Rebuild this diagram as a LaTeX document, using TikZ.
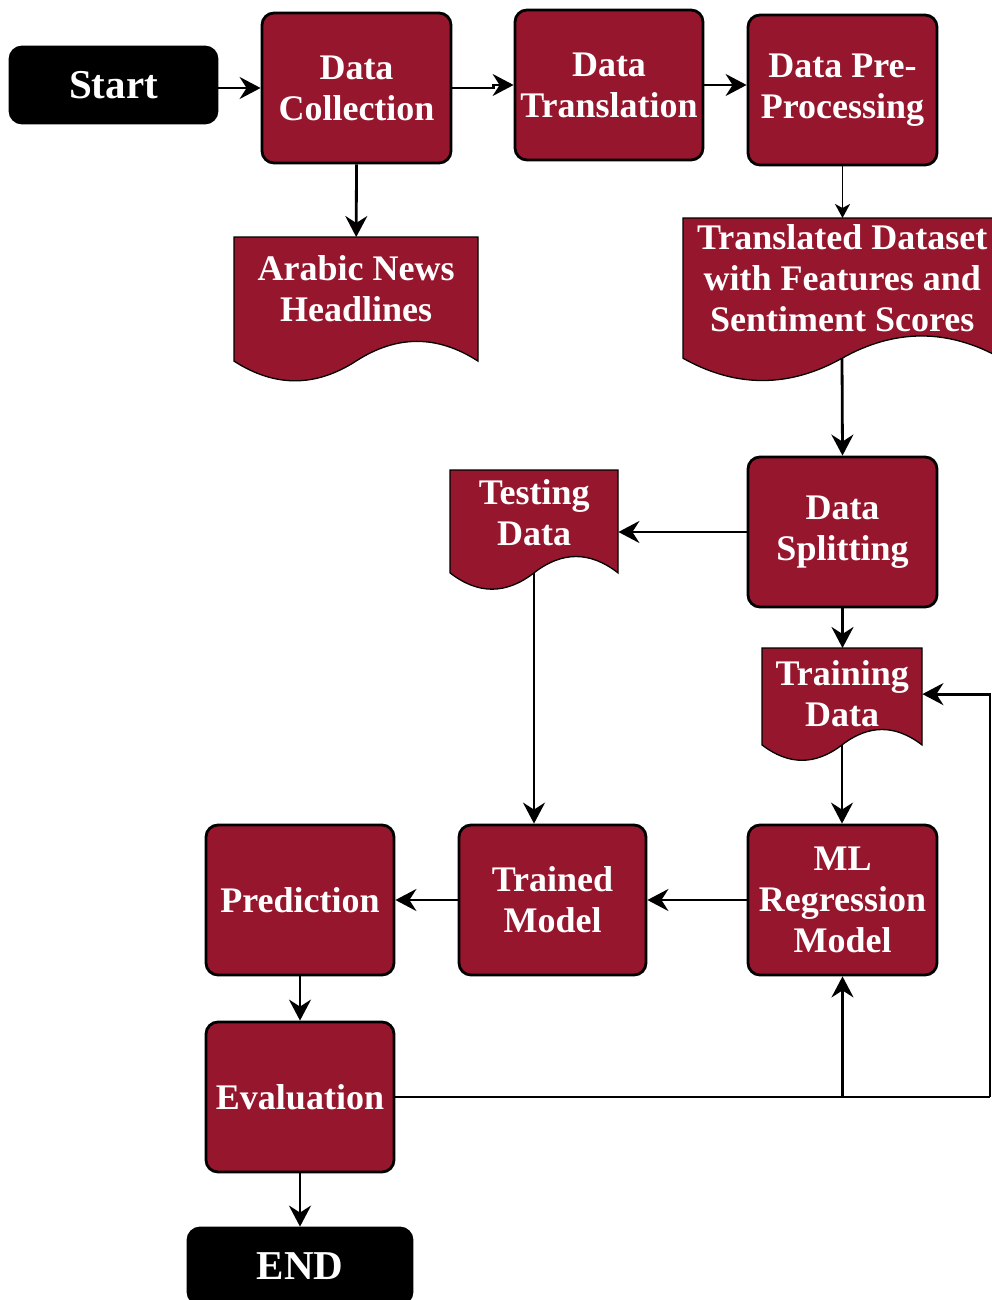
\documentclass[tikz,border=0pt]{standalone}
\usepackage{fontspec}
\setmainfont{Liberation Serif}
\usetikzlibrary{arrows.meta}
\definecolor{maroon}{RGB}{150,23,45}
\newcommand\docnode[7][0]{%
  \pgfmathsetmacro\dY{0.3*#6}%
  \pgfmathsetmacro\xR{#3+#5}%
  \pgfmathsetmacro\xMid{#3+0.5*#5}%
  \pgfmathsetmacro\xA{#3+5*#5/6}%
  \pgfmathsetmacro\xB{#3+2*#5/3}%
  \pgfmathsetmacro\xC{#3+#5/3}%
  \pgfmathsetmacro\xD{#3+#5/6}%
  \pgfmathsetmacro\yMid{#4+#6-0.5*\dY}%
  \pgfmathsetmacro\yA{#4+#6-1.1*\dY}%
  \pgfmathsetmacro\yB{#4+#6+0.1*\dY}%
  \pgfmathsetmacro\hL{#6-\dY}%
  \draw[docshape] (#3,#4) -- (\xR,#4) -- (\xR,\yMid)
    .. controls (\xA,\yA) and (\xB,\yA) .. (\xMid,\yMid)
    .. controls (\xC,\yB) and (\xD,\yB) .. (#3,\yMid) -- cycle;
  \node[doclabel, minimum width=#5pt, minimum height=\hL pt, anchor=north west, yshift=-#1pt] (#2) at (#3,#4) {#7};
  \coordinate (#2-b) at (\xMid,\yMid);
}
\begin{document}
\begin{tikzpicture}[x=1pt,y=-1pt,
  txt/.style={text=white, font=\bfseries\fontsize{36}{41}\selectfont, align=center},
  box/.style={txt, draw=black, line width=2.8pt, fill=maroon, rounded corners=12pt,
    minimum width=189pt, minimum height=150pt, inner sep=0pt},
  term/.style={box, fill=black, minimum width=207pt, minimum height=76pt,
    font=\bfseries\fontsize{41}{45}\selectfont},
  docshape/.style={draw=black, line width=1.3pt, fill=maroon},
  doclabel/.style={txt, inner sep=0pt},
  line/.style={line width=2.8pt},
  conn/.style={line, -{Stealth[length=21pt,width=22pt,inset=7pt]}},
  thinconn/.style={line width=1.6pt, -{Stealth[length=14pt,width=15pt,inset=4pt]}}]
\useasboundingbox (0,0) rectangle (992,1300);

% process boxes
\node[term] (start) at (113.5,85) {Start};
\node[box] (dc) at (356.5,88) {Data\\Collection};
\node[box, minimum width=188pt] (dt) at (609,85) {Data\\Translation};
\node[box] (dpp) at (842.5,90) {Data Pre-\\Processing};
\node[box] (ds) at (842.5,532) {Data\\Splitting};
\node[box] (ml) at (842.5,900) {ML\\Regression\\Model};
\node[box, minimum width=187pt] (tm) at (552.5,900) {Trained\\Model};
\node[box, minimum width=188pt] (pred) at (300,900) {Prediction};
\node[box, minimum width=188pt] (eval) at (300,1097) {Evaluation};
\node[term, minimum width=224pt] (end) at (300,1266) {END};

% documents
\docnode{arabic}{234}{237}{244}{146}{Arabic News\\Headlines}
\docnode[2]{transl}{683}{218}{318}{165}{Translated Dataset\\with Features and\\Sentiment Scores}
\docnode{testing}{450}{470}{168}{121}{Testing\\Data}
\docnode[6]{training}{762}{648}{160}{114}{Training\\Data}

% connectors
\draw[conn] (start.east |- dc.west) -- (dc.west);
\draw[conn] (dc.east) -- ++(41,0) |- (dt.west);
\draw[conn] (dt.east) -- (dt.east -| dpp.west);
\draw[conn] (dc.south) -- (arabic.north |- 0,237);
\draw[thinconn] (dpp.south) -- (dpp.south |- 0,218);
\draw[conn] (transl-b) -- (ds.north);
\draw[conn] (ds.west) -- (ds.west -| testing.east);
\draw[conn] (ds.south) -- (ds.south |- 0,648);
\draw[conn] (training-b) -- (training-b |- ml.north);
\draw[conn] (testing-b) -- (testing-b |- tm.north);
\draw[conn] (ml.west) -- (tm.east);
\draw[conn] (tm.west) -- (pred.east);
\draw[conn] (pred.south) -- (eval.north);
\draw[conn] (eval.south) -- (end.north);
\coordinate (rc) at (990,1097);
\draw[line] (eval.east) -- (rc);
\draw[conn] (rc) |- (training.east);
\draw[conn] (eval.east -| ml.south) -- (ml.south);
\end{tikzpicture}
\end{document}
